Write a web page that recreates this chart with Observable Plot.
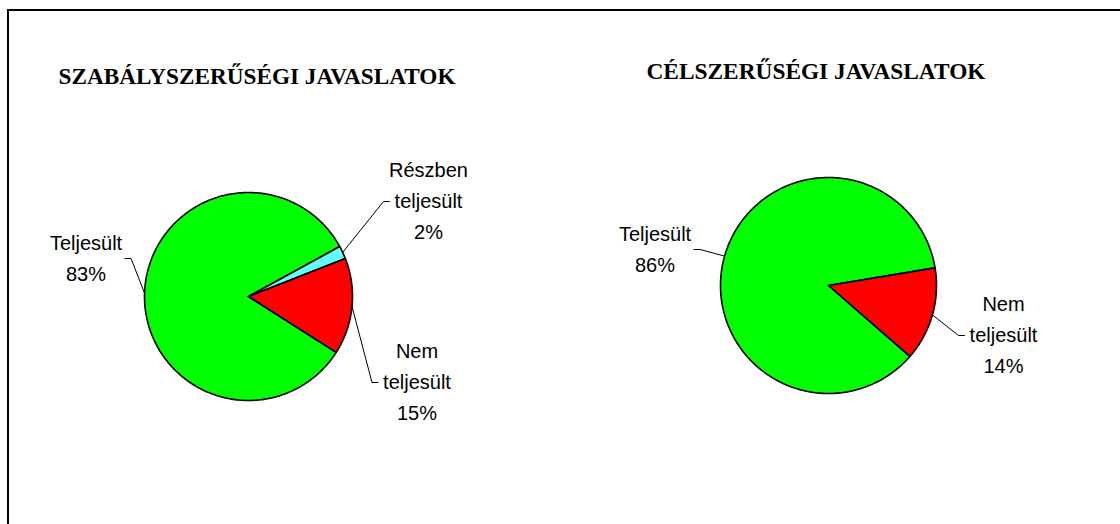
<!DOCTYPE html>
<html><head><meta charset="utf-8">
<script src="https://cdn.jsdelivr.net/npm/d3@7"></script>
<script src="https://cdn.jsdelivr.net/npm/@observablehq/plot@0.6"></script>
<style>
html,body{margin:0;padding:0;background:#fff;overflow:hidden;}
#wrap{position:relative;width:1120px;height:524px;overflow:hidden;}
#wrap svg{position:absolute;left:0;top:0;}
#frame{position:absolute;left:7px;top:9px;width:1300px;height:700px;border-left:2px solid #000;border-top:2px solid #000;pointer-events:none;}
</style></head><body><div id="wrap"></div>
<script>
// ---- data ----
const titles = ["SZABÁLYSZERŰSÉGI JAVASLATOK", "CÉLSZERŰSÉGI JAVASLATOK"];
const categoriesLeft = ["Teljesült", "Részben teljesült", "Nem teljesült"];
const valuesLeft = [83, 2, 15];
const categoriesRight = ["Teljesült", "Nem teljesült"];
const valuesRight = [86, 14];

// ---- styles / layout (not data) ----
const colors = {"Teljesült": "#00ff00", "Részben teljesült": "#66ffff", "Nem teljesült": "#ff0000"};
const layout = [
  {cx: 248, cy: 296, r: 104, start: 122.5, titleX: 256.5, titleY: 83, titleLen: 397,
   labels: [{dx: -162.5, dy: -41}, {dx: 180, dy: -98}, {dx: 168.5, dy: 83}]},
  {cx: 828, cy: 285, r: 108, start: 131, titleX: 815.5, titleY: 78, titleLen: 339,
   labels: [{dx: -173.5, dy: -39}, {dx: 175, dy: 47}]}
];
const pies = [
  {title: titles[0], categories: categoriesLeft, values: valuesLeft, ...layout[0]},
  {title: titles[1], categories: categoriesRight, values: valuesRight, ...layout[1]}
];

const rad = Math.PI / 180;
const marks = [];
const labelRows = [];
const titleRows = [];

for (const p of pies) {
  const items = p.categories.map((c, i) => ({name: c, value: p.values[i]}));
  const total = d3.sum(items, d => d.value);
  const arcs = d3.pie().sort(null).value(d => d.value).startAngle(p.start * rad).endAngle(p.start * rad + 2 * Math.PI)(items);
  const pt = (a, r) => ({x: p.cx + r * Math.sin(a), y: p.cy - r * Math.cos(a)});
  arcs.forEach((a, i) => {
    const pts = [{x: p.cx, y: p.cy}];
    const n = Math.max(2, Math.ceil((a.endAngle - a.startAngle) / rad));
    for (let k = 0; k <= n; k++) pts.push(pt(a.startAngle + (a.endAngle - a.startAngle) * k / n, p.r));
    marks.push(Plot.line(pts, {x: "x", y: "y", curve: "linear-closed", fill: colors[a.data.name], stroke: "#000", strokeWidth: 1.6, strokeLinejoin: "round"}));
    const L = p.labels[i];
    const lx = p.cx + L.dx, ly = p.cy + L.dy;
    const mid = (a.startAngle + a.endAngle) / 2;
    const e = pt(mid, p.r);
    const side = lx > p.cx ? -1 : 1;
    const leader = [e, {x: lx + side * 45, y: ly + 3}, {x: lx + side * 39, y: ly + 3}];
    marks.push(Plot.line(leader, {x: "x", y: "y", stroke: "#000", strokeWidth: 1}));
    labelRows.push({x: lx, y: ly, text: a.data.name.replace(" ", "\n") + "\n" + Math.round(a.data.value / total * 100) + "%"});
  });
  titleRows.push({x: p.titleX, y: p.titleY, text: p.title, len: p.titleLen});
}

marks.push(Plot.text(labelRows, {x: "x", y: "y", text: "text", fontSize: 20, lineHeight: 1.55, fill: "#000", fontFamily: "'Liberation Sans', Arial, sans-serif"}));
marks.push(Plot.text(titleRows, {x: "x", y: "y", text: "text", fontSize: 24, fontWeight: "bold", lineAnchor: "bottom", fill: "#000", fontFamily: "'Liberation Serif', 'Times New Roman', serif"}));

const chart = Plot.plot({
  width: 1120, height: 524,
  margin: 0,
  x: {domain: [0, 1120], range: [0, 1120], axis: null},
  y: {domain: [0, 524], range: [0, 524], axis: null},
  style: {background: "transparent", overflow: "visible"},
  marks
});
// compress the titles horizontally to the reference width
d3.select(chart).selectAll("text").each(function () {
  const t = titleRows.find(r => r.text === this.textContent);
  if (t) { this.setAttribute("textLength", t.len); this.setAttribute("lengthAdjust", "spacingAndGlyphs"); }
});
const wrap = document.getElementById("wrap");
wrap.appendChild(chart);
const frame = document.createElement("div");
frame.id = "frame";
wrap.appendChild(frame);
</script></body></html>
